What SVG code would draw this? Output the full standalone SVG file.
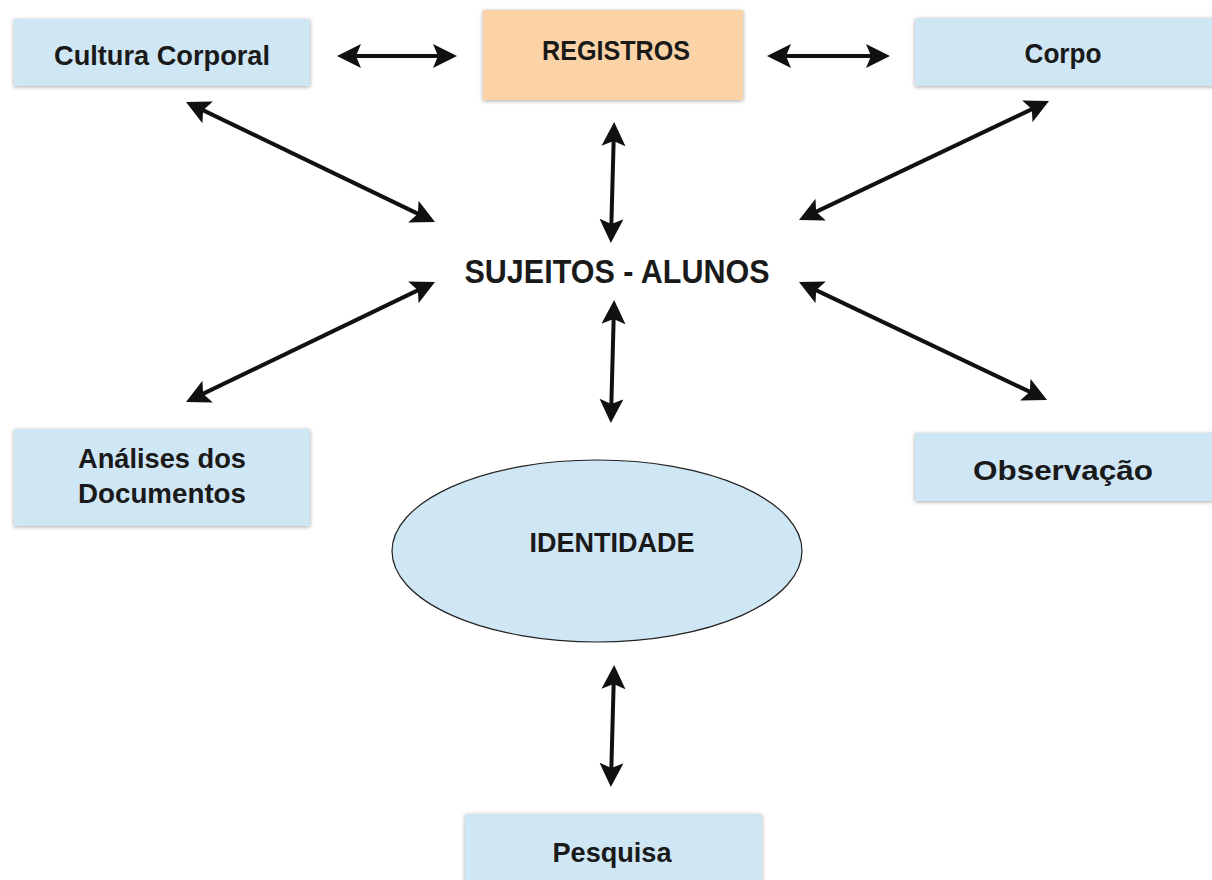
<svg xmlns="http://www.w3.org/2000/svg" width="1212" height="880" viewBox="0 0 1212 880">
<style>
.box{fill:#cfe6f5;filter:url(#sh)}
.org{fill:#fcd3a6;filter:url(#sh)}
.t{font-family:"Liberation Sans",Arial,sans-serif;font-weight:bold;font-size:28px;fill:#1a1a1a;text-anchor:middle}
.big{font-size:34px}
.c{stroke:#111;stroke-width:4;fill:none;marker-start:url(#a);marker-end:url(#a)}
</style>
<defs>
<filter id="sh" x="-10%" y="-20%" width="120%" height="140%">
<feGaussianBlur in="SourceAlpha" stdDeviation="2"/>
<feOffset dx="0" dy="1"/>
<feComponentTransfer><feFuncA type="linear" slope="0.35"/></feComponentTransfer>
<feMerge><feMergeNode/><feMergeNode in="SourceGraphic"/></feMerge>
</filter>
<marker id="a" markerUnits="userSpaceOnUse" markerWidth="26" markerHeight="24" viewBox="0 0 26 24" refX="18" refY="12" orient="auto-start-reverse">
<path d="M0,0 L24,12 L0,24 L5,12 z" fill="#111"/>
</marker>
</defs>
<rect width="1212" height="880" fill="#fff"/>
<g id="connectors">
<line class="c" x1="343" y1="56" x2="451" y2="56"/>
<line class="c" x1="773" y1="56" x2="884" y2="56"/>
<line class="c" x1="191.4" y1="104.6" x2="429.6" y2="219.4"/>
<line class="c" x1="1043.6" y1="103.6" x2="804.4" y2="217.4"/>
<line class="c" x1="614" y1="128" x2="611" y2="237"/>
<line class="c" x1="429.6" y1="284.6" x2="191.4" y2="399.4"/>
<line class="c" x1="804.4" y1="284.6" x2="1041.6" y2="397.4"/>
<line class="c" x1="614" y1="306" x2="611" y2="417"/>
<line class="c" x1="614" y1="671" x2="611" y2="781"/>
</g>
<g id="cultura"><rect class="box" x="14" y="19" width="296" height="67"/><text class="t" x="162" y="65" textLength="216" lengthAdjust="spacingAndGlyphs">Cultura Corporal</text></g>
<g id="registros"><rect class="org" x="483" y="10" width="260" height="90"/><text class="t" x="616" y="60" textLength="148" lengthAdjust="spacingAndGlyphs">REGISTROS</text></g>
<g id="corpo"><rect class="box" x="915" y="18" width="300" height="68"/><text class="t" x="1063" y="63" textLength="77" lengthAdjust="spacingAndGlyphs">Corpo</text></g>
<g id="sujeitos"><text class="t big" x="617" y="283" textLength="305" lengthAdjust="spacingAndGlyphs">SUJEITOS - ALUNOS</text></g>
<g id="analises"><rect class="box" x="14" y="429" width="296" height="97"/><text class="t" x="162" y="468" textLength="168" lengthAdjust="spacingAndGlyphs">Análises dos</text><text class="t" x="162" y="503" textLength="168" lengthAdjust="spacingAndGlyphs">Documentos</text></g>
<g id="observacao"><rect class="box" x="915" y="433" width="300" height="68"/><text class="t" x="1063" y="480" textLength="180" lengthAdjust="spacingAndGlyphs">Observação</text></g>
<g id="identidade"><ellipse cx="597" cy="551" rx="205" ry="91" fill="#cfe6f5" stroke="#222" stroke-width="1.2"/><text class="t" x="612" y="552" textLength="165" lengthAdjust="spacingAndGlyphs">IDENTIDADE</text></g>
<g id="pesquisa"><rect class="box" x="465" y="814" width="297" height="70"/><text class="t" x="612" y="862" textLength="119" lengthAdjust="spacingAndGlyphs">Pesquisa</text></g>
</svg>
